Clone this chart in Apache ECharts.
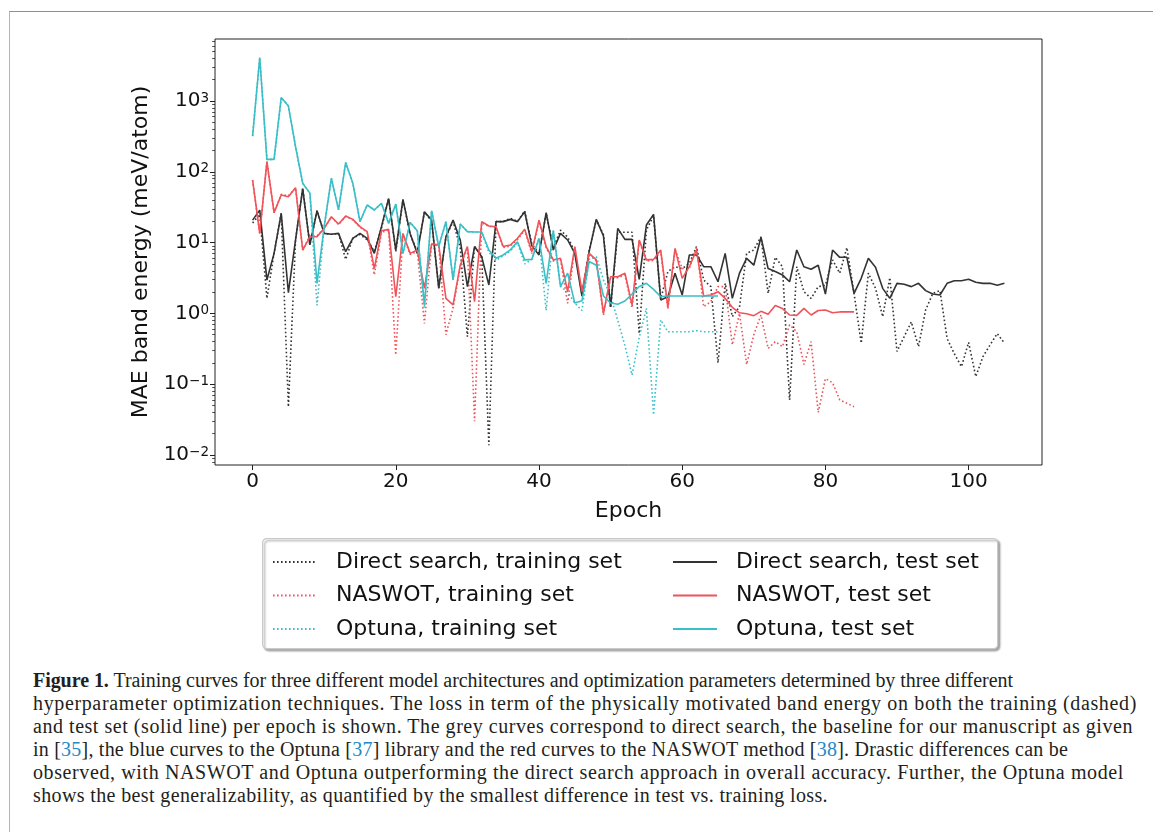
<!DOCTYPE html>
<html><head><meta charset="utf-8">
<script src="https://cdn.jsdelivr.net/npm/echarts@6.0.0/dist/echarts.min.js"></script>
<style>
html,body{margin:0;padding:0;background:#fff;width:1153px;height:832px;overflow:hidden;}
#frame{position:absolute;left:9px;top:11px;width:1144px;height:821px;border-top:1px solid #8f8f8f;border-left:1px solid #b5b5b5;box-sizing:border-box;}
#chart{position:absolute;left:0;top:0;width:1153px;height:660px;}
#caption{position:absolute;left:33px;top:669px;font-family:'Liberation Serif','Times New Roman',serif;font-size:20px;line-height:23px;color:#231f20;white-space:nowrap;}
#caption > span{display:inline-block;}
#caption .c{color:#2389c7}
</style></head>
<body>
<div id="frame"></div>
<div id="chart"></div>
<div id="caption">
<span data-w="980"><b>Figure 1.</b> Training curves for three different model architectures and optimization parameters determined by three different</span><br>
<span data-w="1104">hyperparameter optimization techniques. The loss in term of the physically motivated band energy on both the training (dashed)</span><br>
<span data-w="1100">and test set (solid line) per epoch is shown. The grey curves correspond to direct search, the baseline for our manuscript as given</span><br>
<span data-w="1035">in [<span class="c">35</span>], the blue curves to the Optuna [<span class="c">37</span>] library and the red curves to the NASWOT method [<span class="c">38</span>]. Drastic differences can be</span><br>
<span data-w="1091">observed, with NASWOT and Optuna outperforming the direct search approach in overall accuracy. Further, the Optuna model</span><br>
<span data-w="795">shows the best generalizability, as quantified by the smallest difference in test vs. training loss.</span>
</div>
<script>
// ---- data (MAE band energy, meV/atom, per epoch starting at 0) ----
const directTrain = [19,25,1.63,7.05,25.9,0.048,10.9,58,9.3,28.2,13.5,13.1,13.5,5.8,11.5,
 13,11,7.5,16,42,7.5,40,13,7.5,27,20,2.3,12,20,8.5,0.47,8.8,6.5,0.0138,19.8,
 19.8,22,20,28,9.5,7,26,8.5,15,12,7.5,1.9,7.7,21,13,1.2,14,14,14,0.52,
 15,24,1.6,3.9,4.57,4.3,5.1,8.8,2.97,2.39,0.2,2.66,0.9,1.24,7.05,7.86,12.1,1.92,6.2,4.57,
 0.06,4.57,2.03,1.63,2.39,2.5,5.7,3.7,8.5,1.92,0.38,3.7,2.26,0.9,3.2,0.29,0.47,0.76,0.34,
 1.12,1.92,2.1,0.44,0.27,0.177,0.39,0.128,0.245,0.36,0.52,0.38];
const directTest = [20.8,28.8,2.97,7.05,25.9,1.96,10.9,58,9.3,28.2,13.5,13.1,13.5,7.45,11.5,
 13.5,11.5,7.05,16.8,42,7.86,40.8,13.5,7.05,27.3,20.8,2.26,12.1,20.8,10.9,2.39,8.8,6.3,2.52,19.8,
 19.8,21.3,19.8,27.3,9.0,6.7,26.5,7.86,13.5,10.9,7.05,1.76,7.45,21.3,12.4,1.24,15.9,11.1,11.1,3.03,
 17.7,25.1,1.55,1.72,3.7,1.82,6.7,6.7,4.57,4.57,2.8,7.05,1.63,3.7,6.0,4.8,11.9,4.3,3.9,3.5,
 2.8,7.86,4.57,4.2,4.8,1.88,7.86,6.2,6.2,1.92,3.13,6.0,4.5,2.26,1.63,2.66,2.58,2.39,2.66,
 2.1,1.88,1.82,2.66,2.9,2.9,3.03,2.75,2.66,2.66,2.5,2.66];
const naswotTrain = [76,13.5,139,26.5,48,46,59,7.86,12.5,12.5,15.9,23,18,23.5,21,
 16.5,14,3.5,14,15,0.26,13,6.8,7.5,0.72,9.5,9,0.5,1.2,4.5,8.5,0.03,19,17,16.5,
 8.5,9,11,15,7,20,8.5,5.5,5.8,1.39,8.5,1.8,7,5.5,0.95,3.2,3.2,3.5,1.2,10.5,
 5.5,5.6,7.5,1.15,8,4.3,4.3,8.8,1.24,1.47,2.39,2.39,0.36,1.0,0.19,0.5,0.95,0.32,0.4,0.34,
 0.69,0.55,0.19,0.4,0.04,0.12,0.105,0.06,0.054,0.048];
const naswotTest = [76.6,13.5,139,26.5,47,44.5,59.7,7.86,12.1,12.1,15.9,23.2,18.3,23.7,21.3,
 16.8,14.3,4.3,14.7,15.4,1.72,13.5,7.05,7.86,2.26,9.6,9.25,1.63,1.32,4.8,8.8,1.47,19.8,17.2,16.8,
 8.8,9.25,11.5,15.4,7.45,20.8,8.8,5.7,6.0,2.03,8.8,2.03,7.05,5.7,1.0,3.3,3.3,3.7,1.32,10.9,
 5.7,5.8,7.86,1.22,8.3,3.13,4.57,7.86,1.76,1.82,2.03,1.63,1.22,1.02,0.99,0.93,1.07,0.97,1.29,1.17,
 0.95,0.94,1.18,0.95,1.1,1.12,1.02,1.05,1.05,1.05];
const optunaTrain = [320,4100,150,150,1120,850,226,69,50,1.3,16.8,81,29,135,69,
 19.8,34,28.9,35.9,18.7,35,7.05,19.3,14.7,1.2,28.2,8.8,19.8,2.97,18.3,14.3,14.1,14.1,7.3,5.6,
 6.5,7.6,10,5.0,5.8,11.5,1.1,14.8,2.4,2.0,1.4,1.1,5.8,6.3,2.97,1.76,0.8,0.35,0.135,0.46,
 1.18,0.037,0.81,0.55,0.55,0.55,0.55,0.57,0.55,0.55,0.55];
const optunaTest = [320,4100,150,150,1120,850,226,69,50,2.66,16.8,81,29,135,69,
 19.8,34,28.9,35.9,18.7,35,7.05,19.3,14.7,1.31,28.2,8.8,19.8,2.97,18.3,14.3,14.1,14.1,7.85,6.0,
 6.7,7.9,10.3,5.7,5.8,11.5,2.66,14.8,2.4,3.7,1.4,1.51,5.4,4.8,1.76,1.4,1.35,1.5,1.88,2.4,
 2.66,2.19,1.72,1.76,1.76,1.76,1.76,1.76,1.76,1.76,1.76];
const seriesNames = ['Direct search, training set','NASWOT, training set','Optuna, training set',
                     'Direct search, test set','NASWOT, test set','Optuna, test set'];
const xTicks = [0,20,40,60,80,100];
const yTicks = [0.01,0.1,1,10,100,1000];
const yMinorTicks = [];
for (let d = -3; d <= 3; d++) for (let k = 2; k <= 9; k++) yMinorTicks.push(+(k * Math.pow(10, d)).toPrecision(3));

// ---- caption: fit each line to the measured width of the reference ----
document.querySelectorAll('#caption > span').forEach(s => {
  const target = +s.dataset.w, w = s.getBoundingClientRect().width;
  const n = s.textContent.length;
  s.style.letterSpacing = ((target - w) / n).toFixed(3) + 'px';
});

// ---- styles ----
const C_DS = '#333333', C_NW = '#f0535a', C_OP = '#3bbfc7';
const FONT = 'DejaVu Sans';
const pairs = arr => arr.map((v, i) => [i, v]);
function line(name, data, color, dotted) {
  return {
    name, type: 'line', data: pairs(data), symbol: 'none', showSymbol: false, silent: true,
    lineStyle: { color, width: 1.6, type: dotted ? [1.6, 2.4] : 'solid' },
    itemStyle: { color }, emphasis: { disabled: true }
  };
}
function sup(v) {
  const e = Math.round(Math.log10(v));
  return '{b|10}{s|' + (e < 0 ? '\u2212' + (-e) : e) + '}';
}
const chart = echarts.init(document.getElementById('chart'), null, { renderer: 'canvas' });
const legendCommon = {
  orient: 'vertical', top: 551, padding: 0, itemWidth: 44, itemHeight: 14, itemGap: 11.5,
  itemStyle: { opacity: 0 },
  textStyle: { fontSize: 22, fontFamily: FONT, color: '#111', padding: [0, 0, 0, 14] },
  selectedMode: false
};
chart.setOption({
  animation: false,
  backgroundColor: 'transparent',
  textStyle: { fontFamily: FONT },
  grid: { left: 215, top: 39, width: 827, height: 426, show: true, borderColor: '#222', borderWidth: 1, backgroundColor: 'transparent' },
  graphic: [{
    type: 'rect', left: 262, top: 538, z: 0,
    shape: { width: 735, height: 110, r: 4 },
    style: { fill: '#fff', stroke: '#c9c9c9', lineWidth: 1.2, shadowBlur: 2, shadowOffsetX: 2, shadowOffsetY: 2, shadowColor: 'rgba(0,0,0,0.35)' }
  }],
  legend: [
    Object.assign({ left: 272, data: seriesNames.slice(0, 3) }, legendCommon),
    Object.assign({ left: 672, data: seriesNames.slice(3) }, legendCommon)
  ],
  xAxis: {
    type: 'value', min: -5.25, max: 110.25,
    name: 'Epoch', nameLocation: 'middle', nameGap: 35,
    nameTextStyle: { fontSize: 22, fontFamily: FONT, color: '#111' },
    axisLine: { show: false, onZero: false },
    axisTick: { show: true, length: 5, customValues: xTicks, lineStyle: { color: '#222', width: 1 } },
    axisLabel: { customValues: xTicks, fontSize: 20, fontFamily: FONT, color: '#111', margin: 7 },
    splitLine: { show: false }
  },
  yAxis: [{
    type: 'log', logBase: 10, min: 0.00723, max: 7516, position: 'left',
    name: 'MAE band energy (meV/atom)', nameLocation: 'middle', nameGap: 58,
    nameTextStyle: { fontSize: 22, fontFamily: FONT, color: '#111' },
    axisLine: { show: false, onZero: false },
    axisTick: { show: true, length: 5, customValues: yTicks, lineStyle: { color: '#222', width: 1 } },
    axisLabel: {
      customValues: yTicks, margin: 6, formatter: sup, color: '#111',
      rich: {
        b: { fontSize: 20, fontFamily: FONT, color: '#111', lineHeight: 20 },
        s: { fontSize: 13.5, fontFamily: FONT, color: '#111', lineHeight: 10, verticalAlign: 'top' }
      }
    },
    splitLine: { show: false }, minorTick: { show: false }
  }, {
    type: 'log', logBase: 10, min: 0.00723, max: 7516, position: 'left', offset: 0,
    axisLine: { show: false, onZero: false },
    axisTick: { show: true, length: 2.8, customValues: yMinorTicks, lineStyle: { color: '#222', width: 0.8 } },
    axisLabel: { show: false }, splitLine: { show: false }
  }],
  series: [
    line(seriesNames[0], directTrain, C_DS, true),
    line(seriesNames[1], naswotTrain, C_NW, true),
    line(seriesNames[2], optunaTrain, C_OP, true),
    line(seriesNames[3], directTest, C_DS, false),
    line(seriesNames[4], naswotTest, C_NW, false),
    line(seriesNames[5], optunaTest, C_OP, false)
  ]
});
</script>
</body></html>
